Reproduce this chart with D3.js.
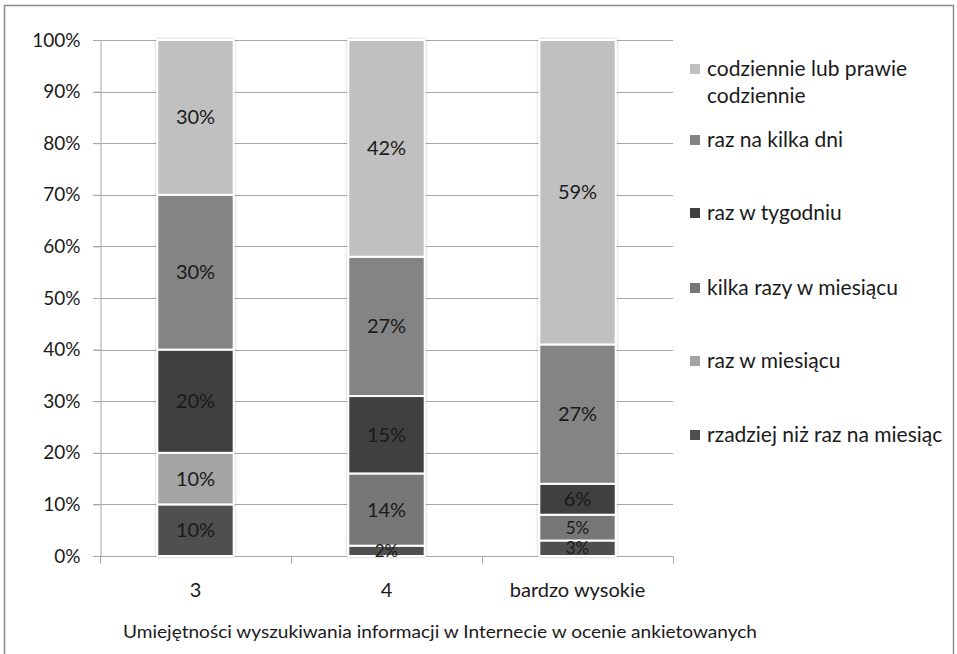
<!DOCTYPE html>
<html>
<head>
<meta charset="utf-8">
<script src="https://cdn.jsdelivr.net/npm/d3@7"></script>
<style>
  html, body { margin: 0; padding: 0; background: #fff; }
  svg { display: block; }
  text { font-family: Lato, "Open Sans", sans-serif; fill: #1a1a1a; }
</style>
</head>
<body>
<svg id="chart" width="957" height="654"></svg>
<script>
// Categories along the x axis
const categories = ["3", "4", "bardzo wysokie"];

// Series, stacked from the bottom up
const seriesNames = [
  "rzadziej niż raz na miesiąc",
  "raz w miesiącu",
  "kilka razy w miesiącu",
  "raz w tygodniu",
  "raz na kilka dni",
  "codziennie lub prawie codziennie"
];
const rzadziej      = [10, 2, 3];
const razWMiesiacu  = [10, 0, 0];
const kilkaRazy     = [0, 14, 5];
const razWTygodniu  = [20, 15, 6];
const razNaKilkaDni = [30, 27, 27];
const codziennie    = [30, 42, 59];

const seriesValues = [rzadziej, razWMiesiacu, kilkaRazy, razWTygodniu, razNaKilkaDni, codziennie];
const seriesColors = ["#4f4f4f", "#a3a3a3", "#777777", "#404040", "#848484", "#c0c0c0"];

const yTicks = [0, 10, 20, 30, 40, 50, 60, 70, 80, 90, 100];
const xTitle = "Umiejętności wyszukiwania informacji w Internecie w ocenie ankietowanych";

// Legend lines (top to bottom), with the series each refers to
const legendItems = [
  { series: 5, lines: ["codziennie lub prawie", "codziennie"] },
  { series: 4, lines: ["raz na kilka dni"] },
  { series: 3, lines: ["raz w tygodniu"] },
  { series: 2, lines: ["kilka razy w miesiącu"] },
  { series: 1, lines: ["raz w miesiącu"] },
  { series: 0, lines: ["rzadziej niż raz na miesiąc"] }
];

const svg = d3.select("#chart");

// Outer frame
svg.append("rect")
  .attr("x", 4.5).attr("y", 5.5)
  .attr("width", 949).attr("height", 660)
  .attr("fill", "#fff").attr("stroke", "#8c8c8c").attr("stroke-width", 1.5);

const plot = { left: 100, right: 673, top: 40, bottom: 556 };

const x = d3.scaleBand()
  .domain(categories)
  .range([plot.left, plot.right])
  .paddingInner(0.6).paddingOuter(0.3);

const y = d3.scaleLinear().domain([0, 100]).range([plot.bottom, plot.top]);

// Horizontal gridlines
svg.append("g")
  .selectAll("line")
  .data(yTicks)
  .join("line")
  .attr("x1", plot.left - 7).attr("x2", plot.right)
  .attr("y1", d => Math.round(y(d)) + 0.5).attr("y2", d => Math.round(y(d)) + 0.5)
  .attr("stroke", "#a8a8a8").attr("stroke-width", 1);

// Y axis
const yAxis = svg.append("g")
  .attr("transform", `translate(${plot.left + 0.5},0)`)
  .call(d3.axisLeft(y).tickValues(yTicks).tickFormat(d => d + "%").tickSize(7).tickPadding(13));
yAxis.select(".domain").attr("stroke", "#a8a8a8");
yAxis.selectAll(".tick line").attr("stroke", "#a8a8a8");
yAxis.selectAll("text").style("font-size", "19px").attr("fill", "#1a1a1a");

// X axis with ticks between categories
const xAxisG = svg.append("g").attr("transform", `translate(0,${plot.bottom + 0.5})`);
xAxisG.append("line")
  .attr("x1", plot.left).attr("x2", plot.right)
  .attr("stroke", "#a8a8a8");
const boundaries = d3.range(categories.length + 1)
  .map(i => plot.left + i * (plot.right - plot.left) / categories.length);
xAxisG.selectAll("line.tk")
  .data(boundaries)
  .join("line").attr("class", "tk")
  .attr("x1", d => Math.round(d) + 0.5).attr("x2", d => Math.round(d) + 0.5)
  .attr("y1", 0).attr("y2", 7)
  .attr("stroke", "#a8a8a8");
xAxisG.selectAll("text")
  .data(categories)
  .join("text")
  .attr("x", d => x(d) + x.bandwidth() / 2)
  .attr("y", 40)
  .attr("text-anchor", "middle")
  .style("font-size", "20px")
  .text(d => d);

// Axis title
svg.append("text")
  .attr("x", 440).attr("y", 638)
  .attr("text-anchor", "middle")
  .style("font-size", "18px")
  .attr("textLength", 634)
  .attr("lengthAdjust", "spacingAndGlyphs")
  .text(xTitle);

// Stacked data
const rows = categories.map((c, i) => {
  const r = { category: c };
  seriesNames.forEach((s, j) => { r[s] = seriesValues[j][i]; });
  return r;
});
const stacked = d3.stack().keys(seriesNames)(rows);

// Soft shadow around bars
const defs = svg.append("defs");
const f = defs.append("filter").attr("id", "glow")
  .attr("x", "-20%").attr("y", "-5%").attr("width", "140%").attr("height", "110%");
f.append("feDropShadow")
  .attr("dx", 0).attr("dy", 0).attr("stdDeviation", 1.6)
  .attr("flood-color", "#000").attr("flood-opacity", 0.25);

const barsG = svg.append("g").attr("filter", "url(#glow)");
stacked.forEach((layer, j) => {
  barsG.append("g")
    .selectAll("rect")
    .data(layer.filter(d => d[1] - d[0] > 0))
    .join("rect")
    .attr("x", d => x(d.data.category))
    .attr("width", x.bandwidth())
    .attr("y", d => y(d[1]))
    .attr("height", d => y(d[0]) - y(d[1]))
    .attr("fill", seriesColors[j])
    .attr("stroke", "#ffffff")
    .attr("stroke-width", 2);
});

// Value labels centred on each segment; thin segments get a slightly smaller label
const labelsG = svg.append("g");
stacked.forEach((layer, j) => {
  labelsG.append("g")
    .selectAll("text")
    .data(layer.filter(d => d[1] - d[0] > 0))
    .join("text")
    .attr("x", d => x(d.data.category) + x.bandwidth() / 2)
    .attr("y", d => (y(d[0]) + y(d[1])) / 2 + ((d[1] - d[0]) < 6 ? 6 : 7))
    .attr("text-anchor", "middle")
    .style("font-size", d => (d[1] - d[0]) < 6 ? "17px" : "20px")
    .text(d => (d[1] - d[0]) + "%");
});

// Legend
const legendY = [76, 147, 220, 295, 368, 442];
const lg = svg.append("g");
legendItems.forEach((item, i) => {
  const g = lg.append("g").attr("transform", `translate(690,${legendY[i]})`);
  g.append("rect")
    .attr("x", 0).attr("y", -12).attr("width", 10).attr("height", 10)
    .attr("fill", seriesColors[item.series]);
  item.lines.forEach((ln, k) => {
    g.append("text")
      .attr("x", 17).attr("y", k * 27)
      .style("font-size", "21px")
      .text(ln);
  });
});
</script>
</body>
</html>
